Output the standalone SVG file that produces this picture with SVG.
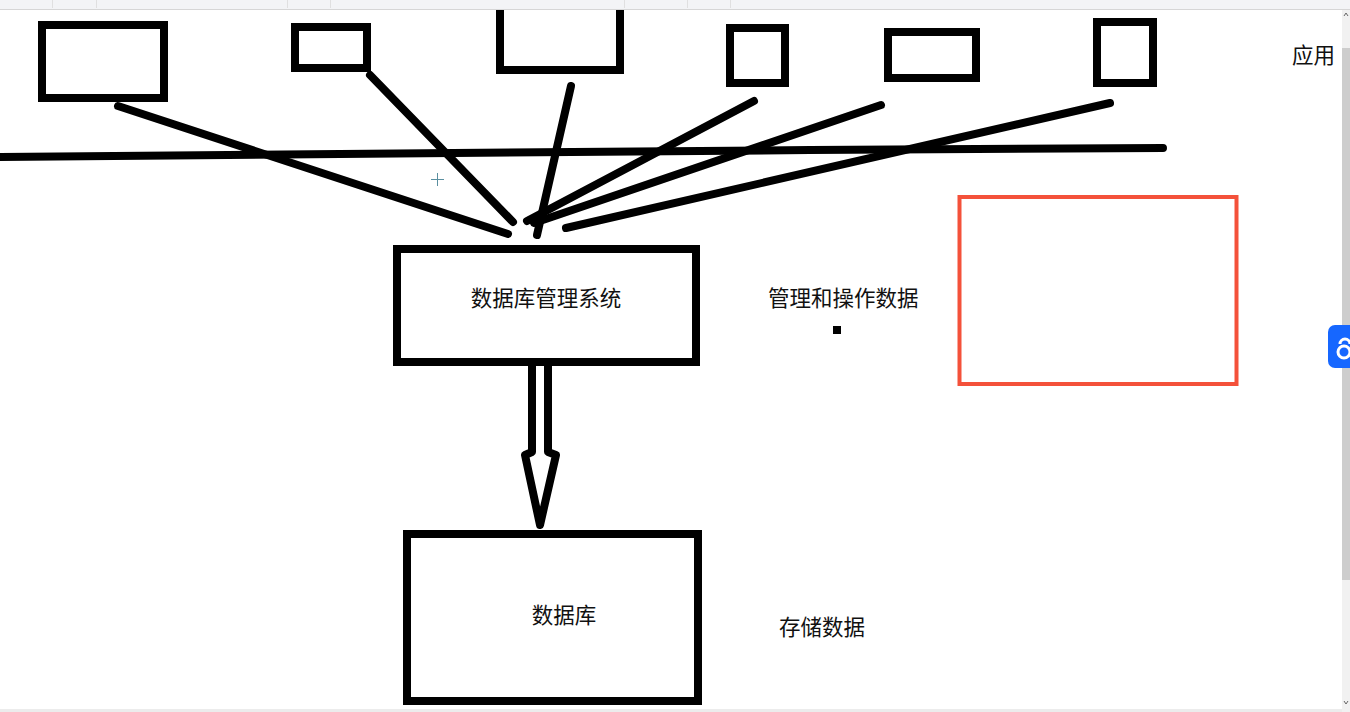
<svg xmlns="http://www.w3.org/2000/svg" width="1350" height="712" viewBox="0 0 1350 712">
<style>
.box{fill:#fff;stroke:#000;stroke-width:8}
.ln{fill:none;stroke:#000;stroke-width:8;stroke-linecap:round;stroke-linejoin:round}
.t{font-family:"Noto Sans CJK SC","Noto Sans",sans-serif;font-size:21.5px;fill:#111}
</style>
<rect x="0" y="0" width="1350" height="712" fill="#fff"/>
<!-- toolbar strip -->
<rect x="0" y="0" width="1350" height="9" fill="#f3f4f6"/>
<line x1="0" y1="9.5" x2="1350" y2="9.5" stroke="#d6d6d6" stroke-width="1"/>
<g stroke="#e0e0e0" stroke-width="1">
<line x1="52.5" y1="0" x2="52.5" y2="8"/><line x1="96.5" y1="0" x2="96.5" y2="8"/>
<line x1="287.5" y1="0" x2="287.5" y2="8"/><line x1="330.5" y1="0" x2="330.5" y2="8"/>
<line x1="624.5" y1="0" x2="624.5" y2="8"/><line x1="687.5" y1="0" x2="687.5" y2="8"/>
<line x1="730.5" y1="0" x2="730.5" y2="8"/>
</g>
<!-- connectors -->
<g id="connectors">
<polyline class="ln" points="0,157 340,154 810,150 1163,148"/>
<line class="ln" x1="118" y1="106" x2="508" y2="234"/>
<line class="ln" x1="370" y1="75" x2="513" y2="222"/>
<line class="ln" x1="571" y1="86" x2="537" y2="235"/>
<line class="ln" x1="754" y1="101" x2="527" y2="221"/>
<line class="ln" x1="881" y1="105" x2="534" y2="223"/>
<line class="ln" x1="1110" y1="103" x2="566" y2="228"/>
<path d="M532,366 L532,452 L525,455 L540,525 L556,455 L548,452 L548,366" fill="#fff" stroke="#000" stroke-width="8" stroke-linejoin="round"/>
</g>
<!-- app boxes -->
<g id="app1"><rect class="box" x="42" y="25" width="122" height="73"/></g>
<g id="app2"><rect class="box" x="295" y="27" width="72" height="41"/></g>
<g id="app3"><path class="box" d="M500,10 L500,70 L620,70 L620,10" fill="none"/></g>
<g id="app4"><rect class="box" x="730" y="28" width="55" height="55"/></g>
<g id="app5"><rect class="box" x="888" y="32" width="88" height="46"/></g>
<g id="app6"><rect class="box" x="1097" y="22" width="56" height="61"/></g>
<g id="label-app"><text class="t" x="1292" y="63">应用</text></g>
<!-- DBMS -->
<g id="dbms">
<rect class="box" x="397" y="249" width="299" height="113"/>
<text class="t" x="546" y="306" text-anchor="middle">数据库管理系统</text>
</g>
<g id="label-dbms"><text class="t" x="768" y="306">管理和操作数据</text></g>
<rect x="833" y="326" width="8" height="8" fill="#000"/>
<!-- DB -->
<g id="db">
<rect class="box" x="407" y="534" width="291" height="167"/>
<text class="t" x="564" y="623" text-anchor="middle">数据库</text>
</g>
<g id="label-db"><text class="t" x="779" y="635">存储数据</text></g>
<!-- red box -->
<g id="redbox"><rect x="959.5" y="197" width="277" height="187" fill="none" stroke="#f4513a" stroke-width="4"/></g>
<!-- cursor -->
<g stroke="#5a8fa0" stroke-width="1">
<line x1="437.5" y1="173" x2="437.5" y2="186"/><line x1="431" y1="179.5" x2="444" y2="179.5"/>
</g>
<!-- scrollbar -->
<rect x="1342" y="10" width="8" height="702" fill="#f1f1f1"/>
<rect x="1342" y="48" width="8" height="532" fill="#cdcdcd"/>
<path d="M1344,16 L1346,13 L1348,16" fill="none" stroke="#666" stroke-width="1"/>
<path d="M1344,701 L1346,704 L1348,701" fill="none" stroke="#666" stroke-width="1"/>
<!-- blue widget -->
<rect x="1328" y="325" width="30" height="43" rx="7" fill="#1667ff"/>
<path d="M1340,344 a5,5 0 1 1 10,0 M1338,352 a5,5 0 1 0 12,0 a5,5 0 0 0 -12,0" fill="none" stroke="#fff" stroke-width="3"/>
<!-- bottom strip -->
<rect x="0" y="709" width="1342" height="3" fill="#ececec"/>
</svg>
